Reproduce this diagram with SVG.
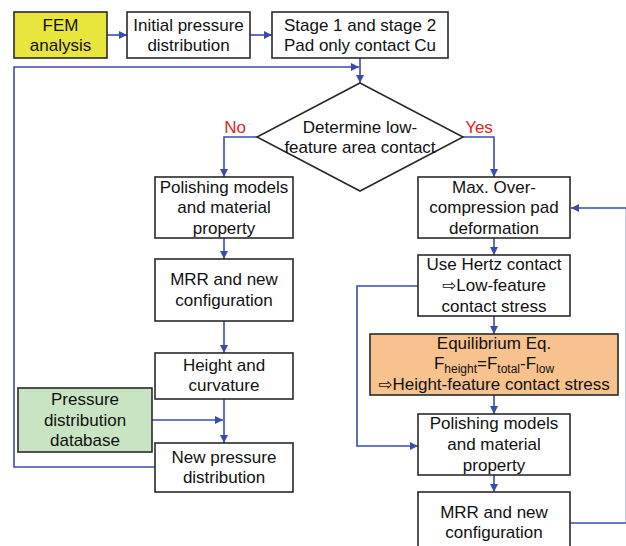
<svg xmlns="http://www.w3.org/2000/svg" width="626" height="546" viewBox="0 0 626 546">
<defs>
<marker id="ah" viewBox="0 0 10 10" refX="10" refY="5" markerWidth="9" markerHeight="8" markerUnits="userSpaceOnUse" orient="auto">
<path d="M0,0 L10,5 L0,10 z" fill="#3a4cb0"/>
</marker>
<style>
.b{fill:#fff;stroke:#2a2a2a;stroke-width:1.6}
.t{font-family:"Liberation Sans","DejaVu Sans",Arial,sans-serif;font-size:17px;fill:#111;text-anchor:middle}
.c{fill:none;stroke:#3a4cb0;stroke-width:1.6}
.a{marker-end:url(#ah)}
.r{font-family:"Liberation Sans",Arial,sans-serif;font-size:17px;fill:#e02424;text-anchor:middle}
.s{font-size:12px}
</style>
</defs>
<rect width="626" height="546" fill="#fff"/>
<g id="connectors">
<path class="c a" d="M107,35 H127"/>
<path class="c a" d="M250,35 H272"/>
<path class="c a" d="M360,58 V83"/>
<path class="c a" d="M155,467 H14 V67 H359"/>
<path class="c a" d="M257,137 H224 V177"/>
<path class="c a" d="M463,137 H494 V177"/>
<path class="c a" d="M224,238 V259"/>
<path class="c a" d="M224,321 V353"/>
<path class="c a" d="M224,399 V443"/>
<path class="c a" d="M152,420 H223"/>
<path class="c a" d="M494,238 V255"/>
<path class="c a" d="M494,316 V334"/>
<path class="c a" d="M494,395 V414"/>
<path class="c a" d="M494,475 V492"/>
<path class="c a" d="M418,286 H357 V446 H418"/>
<path class="c a" d="M570,523 H626.5 V208 H571"/>
<text class="r" x="235" y="133">No</text>
<text class="r" x="479" y="133">Yes</text>
</g>
<g id="fem">
<rect class="b" x="14" y="12" width="93" height="46" style="fill:#e8e63c"/>
<text class="t" x="60.5" y="31">FEM</text>
<text class="t" x="60.5" y="51">analysis</text>
</g>
<g id="initial">
<rect class="b" x="127" y="12" width="123" height="46"/>
<text class="t" x="188.5" y="31">Initial pressure</text>
<text class="t" x="188.5" y="51">distribution</text>
</g>
<g id="stage">
<rect class="b" x="272" y="12" width="176" height="46"/>
<text class="t" x="360" y="31">Stage 1 and stage 2</text>
<text class="t" x="360" y="51">Pad only contact Cu</text>
</g>
<g id="decision">
<polygon class="b" points="360,83 463,137 360,191 257,137"/>
<text class="t" x="360" y="133">Determine low-</text>
<text class="t" x="360" y="153">feature area contact</text>
</g>
<g id="polish1">
<rect class="b" x="155" y="177" width="138" height="61"/>
<text class="t" x="224" y="193">Polishing models</text>
<text class="t" x="224" y="213">and material</text>
<text class="t" x="224" y="234">property</text>
</g>
<g id="mrr1">
<rect class="b" x="155" y="259" width="138" height="62"/>
<text class="t" x="224" y="285">MRR and new</text>
<text class="t" x="224" y="306">configuration</text>
</g>
<g id="height">
<rect class="b" x="155" y="353" width="138" height="46"/>
<text class="t" x="224" y="371">Height and</text>
<text class="t" x="224" y="391">curvature</text>
</g>
<g id="database">
<rect class="b" x="18" y="388" width="134" height="64" style="fill:#c9e4c2"/>
<text class="t" x="85" y="405">Pressure</text>
<text class="t" x="85" y="426">distribution</text>
<text class="t" x="85" y="446">database</text>
</g>
<g id="newpressure">
<rect class="b" x="155" y="443" width="138" height="49"/>
<text class="t" x="224" y="463">New pressure</text>
<text class="t" x="224" y="483">distribution</text>
</g>
<g id="maxover">
<rect class="b" x="418" y="177" width="152" height="61"/>
<text class="t" x="494" y="193">Max. Over-</text>
<text class="t" x="494" y="213">compression pad</text>
<text class="t" x="494" y="234">deformation</text>
</g>
<g id="hertz">
<rect class="b" x="418" y="255" width="152" height="61"/>
<text class="t" x="494" y="270">Use Hertz contact</text>
<text class="t" x="494" y="291">⇨Low-feature</text>
<text class="t" x="494" y="312">contact stress</text>
</g>
<g id="equilibrium">
<rect class="b" x="370" y="334" width="248" height="61" style="fill:#f8c28e"/>
<text class="t" x="494" y="349">Equilibrium Eq.</text>
<text class="t" x="494" y="369">F<tspan class="s" dy="4">height</tspan><tspan dy="-4">=F</tspan><tspan class="s" dy="4">total</tspan><tspan dy="-4">-F</tspan><tspan class="s" dy="4">low</tspan></text>
<text class="t" x="494" y="390">⇨Height-feature contact stress</text>
</g>
<g id="polish2">
<rect class="b" x="418" y="414" width="152" height="61"/>
<text class="t" x="494" y="429">Polishing models</text>
<text class="t" x="494" y="450">and material</text>
<text class="t" x="494" y="471">property</text>
</g>
<g id="mrr2">
<rect class="b" x="418" y="492" width="152" height="62"/>
<text class="t" x="494" y="518">MRR and new</text>
<text class="t" x="494" y="538">configuration</text>
</g>
</svg>
